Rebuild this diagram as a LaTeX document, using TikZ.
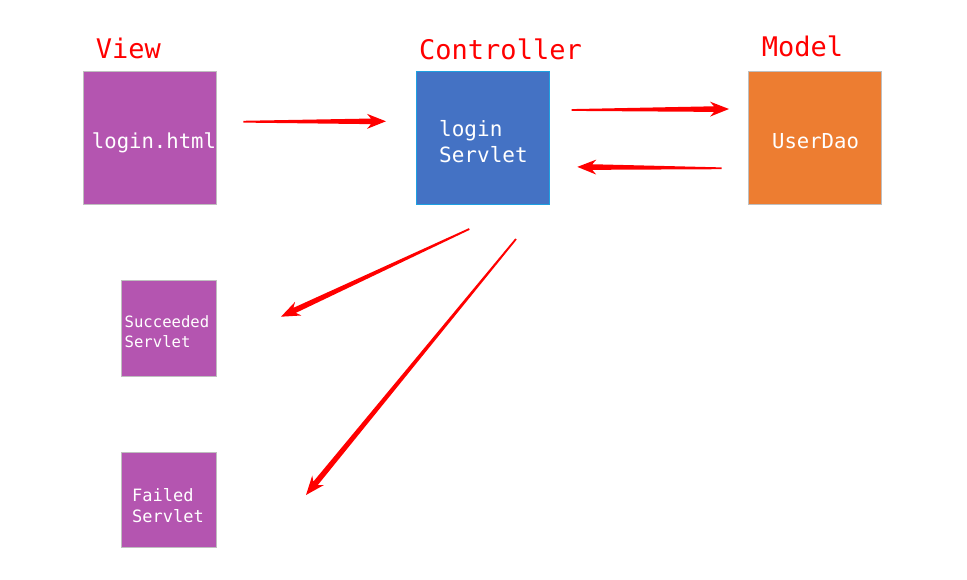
\documentclass[tikz,border=0pt]{standalone}
\usepackage{fontspec}
\setmonofont{DejaVu Sans Mono}
\usetikzlibrary{calc}
\definecolor{vpurple}{RGB}{180,85,176}
\definecolor{cblue}{RGB}{68,114,196}
\definecolor{morange}{RGB}{237,125,49}
\definecolor{bgray}{RGB}{191,191,191}
\definecolor{bblue}{RGB}{30,160,225}
\definecolor{ared}{RGB}{255,0,0}
\newcommand\taparrow[2]{%
  \path ($(#2)!15pt!(#1)$) coordinate (hh) ($(#2)!19pt!(#1)$) coordinate (hb);
  \fill[ared] ($(#1)!0.9pt!90:(#2)$) -- ($(hh)!2.8pt!-90:(#1)$) -- ($(hb)!7.5pt!-90:(#1)$)
    -- (#2) -- ($(hb)!7.5pt!90:(#1)$) -- ($(hh)!2.8pt!90:(#1)$) -- ($(#1)!0.9pt!-90:(#2)$) -- cycle;}
\tikzset{
  box/.style={draw=bgray, line width=1pt, minimum width=133pt, minimum height=133pt, inner sep=0pt},
  smallbox/.style={box, minimum width=95pt, minimum height=95pt},
  head/.style={text=ared, font=\ttfamily\fontsize{27}{30}\selectfont, anchor=base, inner sep=0pt},
  intext/.style={text=white, inner sep=0pt},
}
\begin{document}
\begin{tikzpicture}[x=1pt,y=-1pt]
\path[use as bounding box] (0,0) rectangle (967,580);
% boxes
\node[box, fill=vpurple] (view) at (149.5,138.5) {};
\node[box, fill=cblue, draw=bblue] (ctrl) at (482.5,138.5) {};
\node[box, fill=morange] (model) at (814.5,138.5) {};
\node[smallbox, fill=vpurple] (succ) at (168.5,328.5) {};
\node[smallbox, fill=vpurple] (fail) at (168.5,499.5) {};
% headings
\node[head] (hview) at (128.3,58.3) {View};
\node[head] (hctrl) at (500.5,59.3) {Controller};
\node[head] (hmodel) at (802.5,56.7) {Model};
% texts
\node[intext, anchor=base, font=\ttfamily\fontsize{20.6}{24}\selectfont] (tview) at (154,149) {login.html};
\node[intext, anchor=base west, align=left, font=\ttfamily\fontsize{21}{26}\selectfont] (tctrl) at (439,162.7) {login\\Servlet};
\node[intext, anchor=base, font=\ttfamily\fontsize{20.6}{24}\selectfont] (tmodel) at (815.5,148.3) {UserDao};
\node[intext, anchor=base west, align=left, font=\ttfamily\fontsize{15.6}{20}\selectfont] (tsucc) at (124.5,347.3) {Succeeded\\Servlet};
\node[intext, anchor=base west, align=left, font=\ttfamily\fontsize{17}{21.7}\selectfont] (tfail) at (132,522.7) {Failed\\Servlet};
% arrow end points
\coordinate (a1s) at (243.3,121.7); \coordinate (a1e) at (386,121.3);
\coordinate (a2s) at (571.7,110);   \coordinate (a2e) at (729,109);
\coordinate (a3s) at (721.7,168.3); \coordinate (a3e) at (577.3,166.9);
\coordinate (a4s) at (469.3,229);   \coordinate (a4e) at (281,316.7);
\coordinate (a5s) at (516,239);     \coordinate (a5e) at (306,495);
\taparrow{a1s}{a1e}
\taparrow{a2s}{a2e}
\taparrow{a3s}{a3e}
\taparrow{a4s}{a4e}
\taparrow{a5s}{a5e}
\end{tikzpicture}
\end{document}
